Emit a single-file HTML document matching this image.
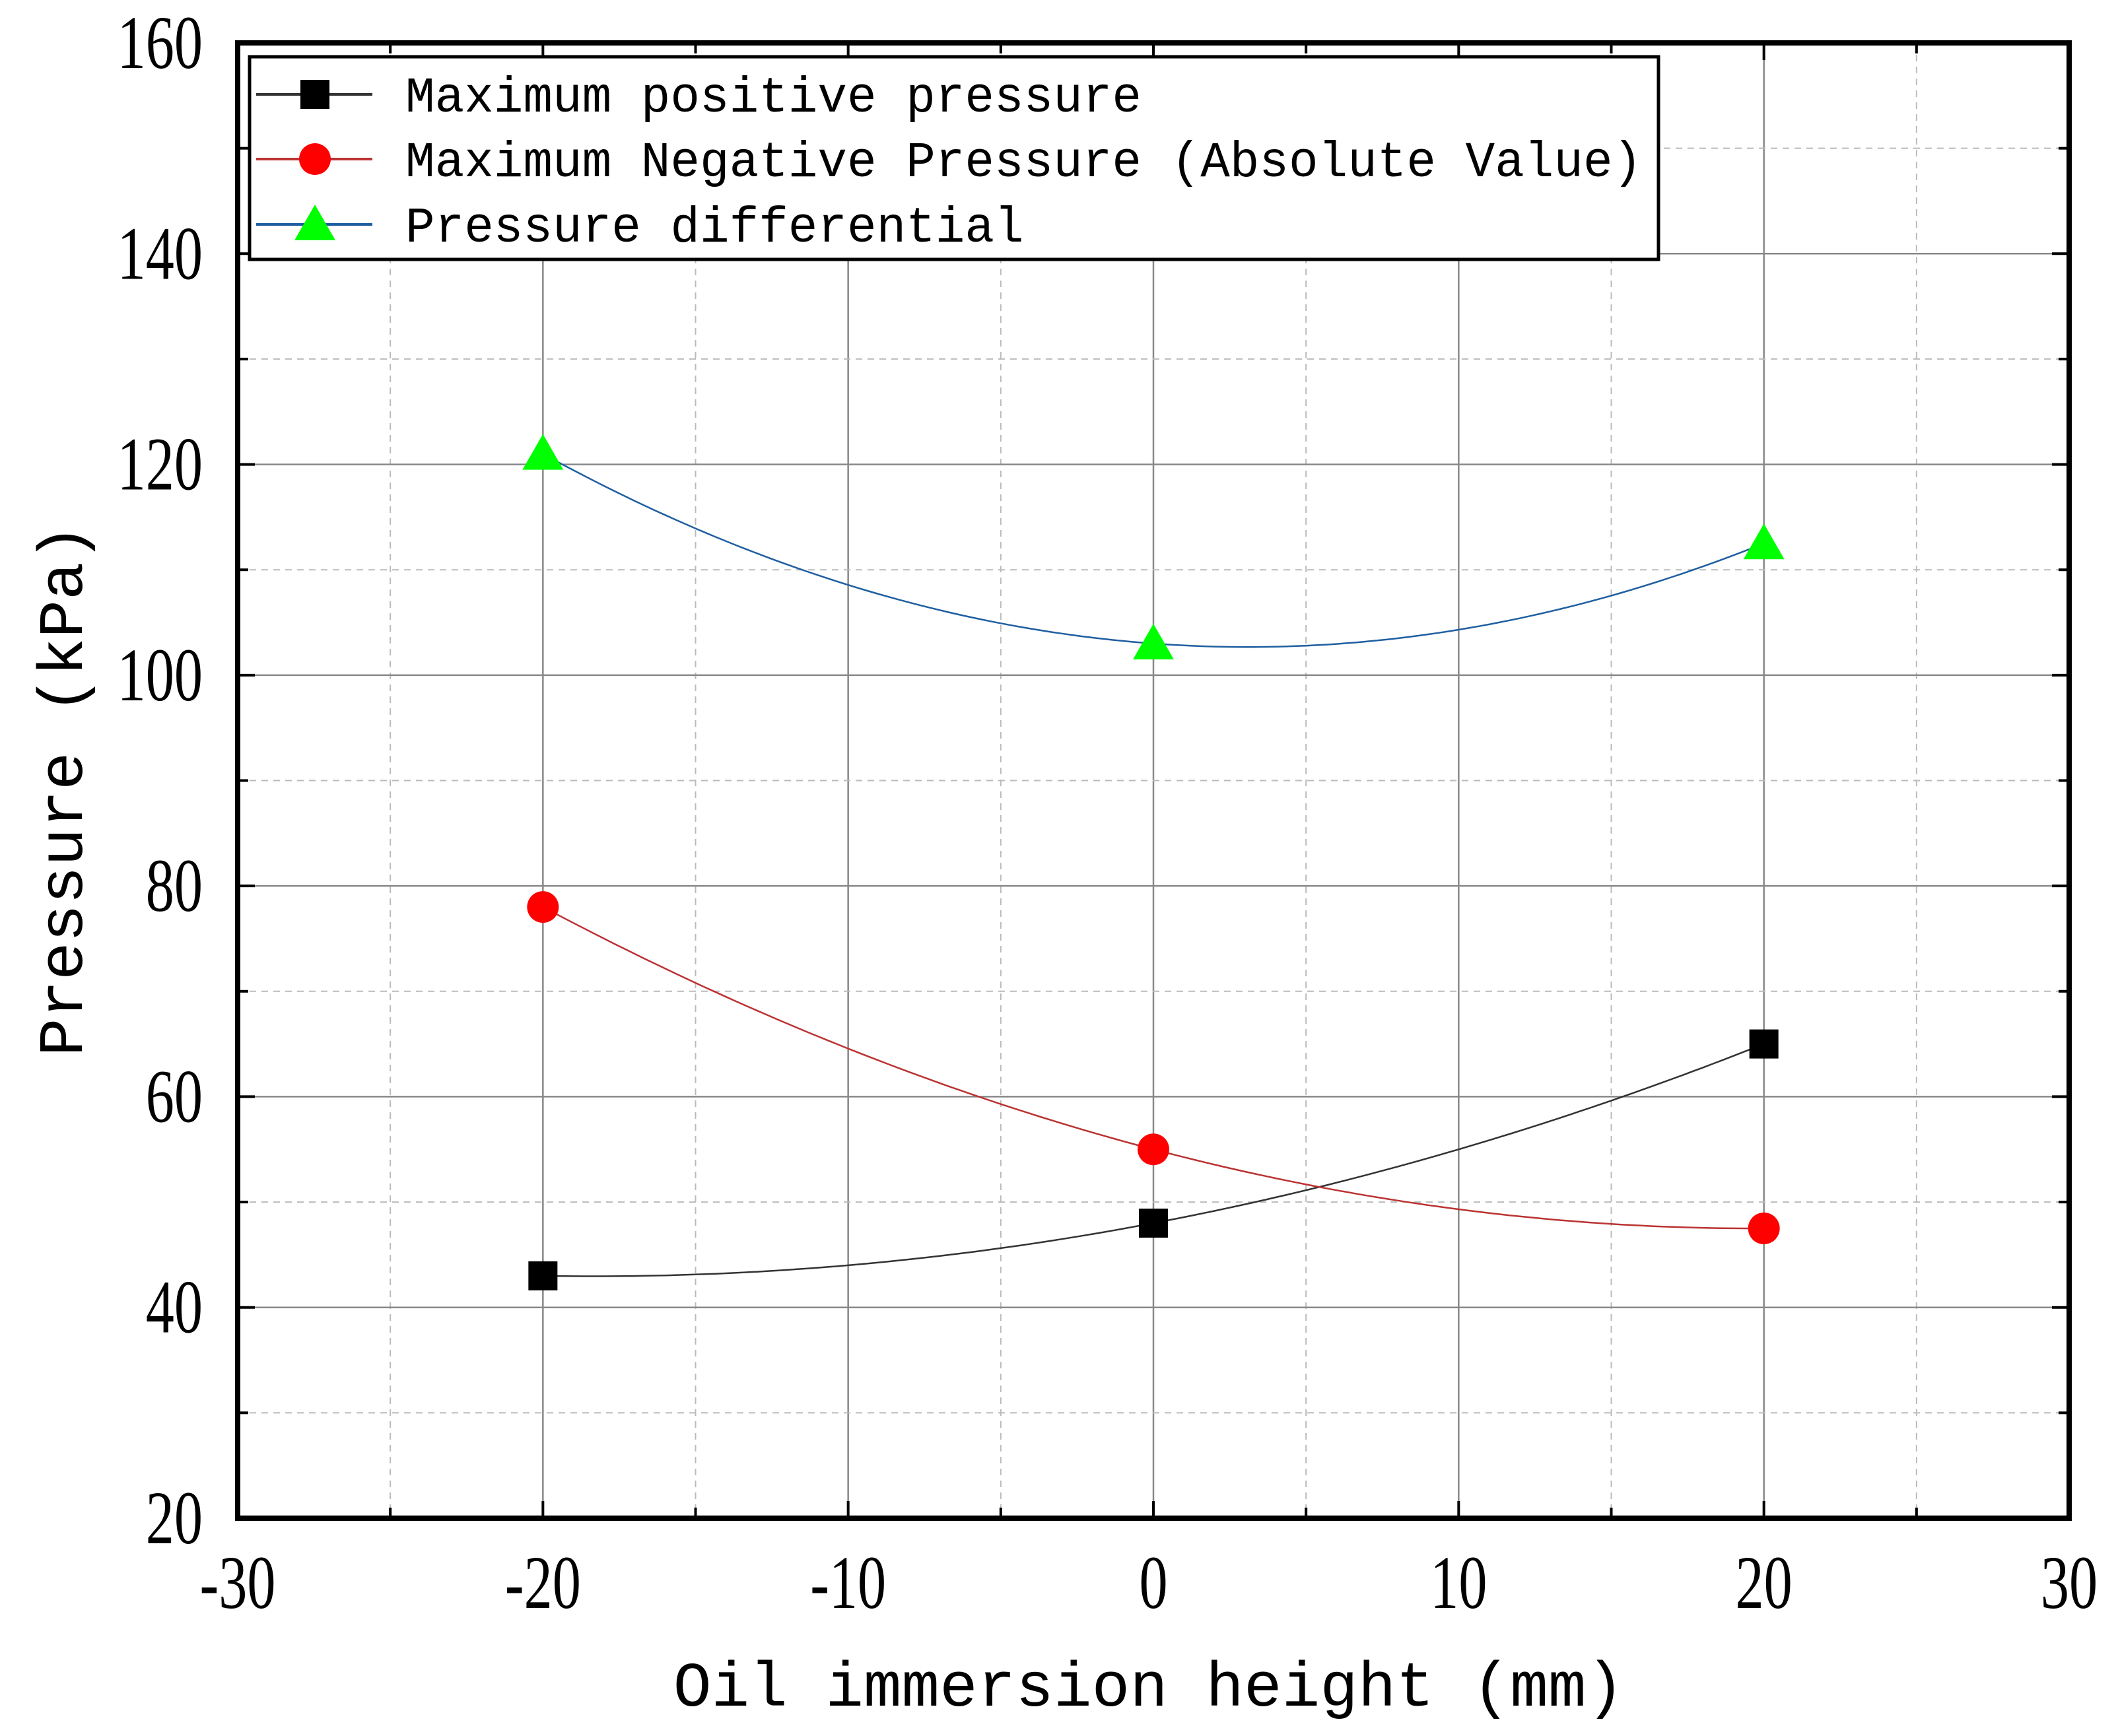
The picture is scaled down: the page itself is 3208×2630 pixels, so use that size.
<!DOCTYPE html>
<html><head><meta charset="utf-8"><style>html,body{margin:0;padding:0;background:#fff}svg{display:block}</style></head>
<body>
<svg id="chart" width="3208" height="2630" viewBox="0 0 3208 2630" xmlns="http://www.w3.org/2000/svg">
<g id="grid"></g>
<g id="series"></g>
<g id="axes"></g>
<g id="legend"></g>
</svg>
<script>
const xCategories = [-20, 0, 20];
const positiveValues = [43, 48, 65];
const negativeValues = [78, 55, 47.5];
const differentialValues = [121, 103, 112.5];
const xTickLabels = ["-30","-20","-10","0","10","20","30"];
const yTickLabels = ["20","40","60","80","100","120","140","160"];
const seriesNames = ["Maximum positive pressure","Maximum Negative Pressure (Absolute Value)","Pressure differential"];

const NS="http://www.w3.org/2000/svg";
const L=360,R=3134,T=65,B=2300;
const xMin=-30,xMax=30,yMin=20,yMax=160;
const sx=v=>L+(v-xMin)/(xMax-xMin)*(R-L);
const sy=v=>B-(v-yMin)/(yMax-yMin)*(B-T);
function mk(tag,attrs,parent){const e=document.createElementNS(NS,tag);for(const k in attrs)e.setAttribute(k,attrs[k]);parent.appendChild(e);return e;}
const grid=document.getElementById('grid'),axes=document.getElementById('axes'),series=document.getElementById('series'),legend=document.getElementById('legend');

for(let v=-25;v<30;v+=5){const major=v%10===0;
 const g=mk('line',{x1:sx(v),x2:sx(v),y1:T,y2:B,stroke:major?'#888':'#bbb','stroke-width':major?2.5:2,'stroke-dasharray':major?'':'10,8'},grid);
 }
for(let v=30;v<160;v+=10){const major=v%20===0;
 const g=mk('line',{x1:L,x2:R,y1:sy(v),y2:sy(v),stroke:major?'#888':'#bbb','stroke-width':major?2.5:2,'stroke-dasharray':major?'':'10,8'},grid);
 }

function curve(vals,color,name){
 const xs=xCategories;let d='';
 for(let i=0;i<=120;i++){const x=xs[0]+(xs[2]-xs[0])*i/120;
  const y=vals[0]*(x-xs[1])*(x-xs[2])/((xs[0]-xs[1])*(xs[0]-xs[2]))+vals[1]*(x-xs[0])*(x-xs[2])/((xs[1]-xs[0])*(xs[1]-xs[2]))+vals[2]*(x-xs[0])*(x-xs[1])/((xs[2]-xs[0])*(xs[2]-xs[1]));
  d+=(i?'L':'M')+sx(x).toFixed(1)+','+sy(y).toFixed(1);}
 const p=mk('path',{d:d,fill:'none',stroke:color,'stroke-width':2.5},series);
 }
function marker(type,cx,cy,g){
 let e;
 if(type==='sq')e=mk('rect',{x:cx-22,y:cy-22,width:44,height:44,fill:'#000'},g);
 else if(type==='ci')e=mk('circle',{cx:cx,cy:cy,r:24,fill:'#f00'},g);
 else e=mk('polygon',{points:`${cx},${cy-30} ${cx+31},${cy+24} ${cx-31},${cy+24}`,fill:'#0f0'},g);
 return e;}
curve(positiveValues,'#333','positive-pressure-line');
curve(negativeValues,'#b33','negative-pressure-line');
curve(differentialValues,'#1f5fa0','differential-line');
xCategories.forEach((x,i)=>{
 let m=marker('sq',sx(x),sy(positiveValues[i]),series);
 
 m=marker('ci',sx(x),sy(negativeValues[i]),series);
 
 m=marker('tr',sx(x),sy(differentialValues[i]),series);
 
});

for(let v=-25;v<30;v+=5){const len=v%10===0?26:16;
 mk('line',{x1:sx(v),x2:sx(v),y1:B,y2:B-len,stroke:'#000','stroke-width':4},axes);
 mk('line',{x1:sx(v),x2:sx(v),y1:T,y2:T+len,stroke:'#000','stroke-width':4},axes);}
for(let v=30;v<160;v+=10){const len=v%20===0?26:16;
 mk('line',{x1:L,x2:L+len,y1:sy(v),y2:sy(v),stroke:'#000','stroke-width':4},axes);
 mk('line',{x1:R,x2:R-len,y1:sy(v),y2:sy(v),stroke:'#000','stroke-width':4},axes);}
const fr=mk('rect',{x:L,y:T,width:R-L,height:B-T,fill:'none',stroke:'#000','stroke-width':8},axes);


function label(txt,x,y,anchor,size,sxs,name){
 const g=mk('g',{transform:`translate(${x},${y}) scale(${sxs},1)`},axes);
 const t=mk('text',{x:0,y:0,'text-anchor':anchor,'font-family':'"Liberation Serif", serif','font-size':size,fill:'#000'},g);
 t.textContent=txt;return t;}
xTickLabels.forEach((s,i)=>label(s,sx(xMin+i*10),2436,'middle',115,0.75,'x-tick-label'));
yTickLabels.forEach((s,i)=>label(s,307,sy(yMin+i*20)+38,'end',115,0.75,'y-tick-label'));

const xt=mk('text',{x:1740,y:2584,'text-anchor':'middle','font-family':'"Liberation Mono", monospace','font-size':96,fill:'#000'},axes);
xt.textContent='Oil immersion height (mm)';

const yt=mk('text',{x:0,y:0,transform:'translate(124,1197) rotate(-90)','text-anchor':'middle','font-family':'"Liberation Mono", monospace','font-size':96,fill:'#000'},axes);
yt.textContent='Pressure (kPa)';


const lb=mk('rect',{x:378,y:86,width:2134,height:307,fill:'#fff',stroke:'#000','stroke-width':5},legend);

const lcolors=['#333','#b33','#1f5fa0'],ltypes=['sq','ci','tr'],ly=[143,241,340];
seriesNames.forEach((n,i)=>{
 const g=mk('g',{},legend);
 
 mk('line',{x1:388,x2:564,y1:ly[i],y2:ly[i],stroke:lcolors[i],'stroke-width':4},g);
 marker(ltypes[i],477,ly[i],g);
 const t=mk('text',{x:614,y:ly[i]+26,'font-family':'"Liberation Mono", monospace','font-size':76,fill:'#000',textLength:n.length*44.6,lengthAdjust:'spacingAndGlyphs'},g);
 t.textContent=n;
});
</script>
</body></html>
